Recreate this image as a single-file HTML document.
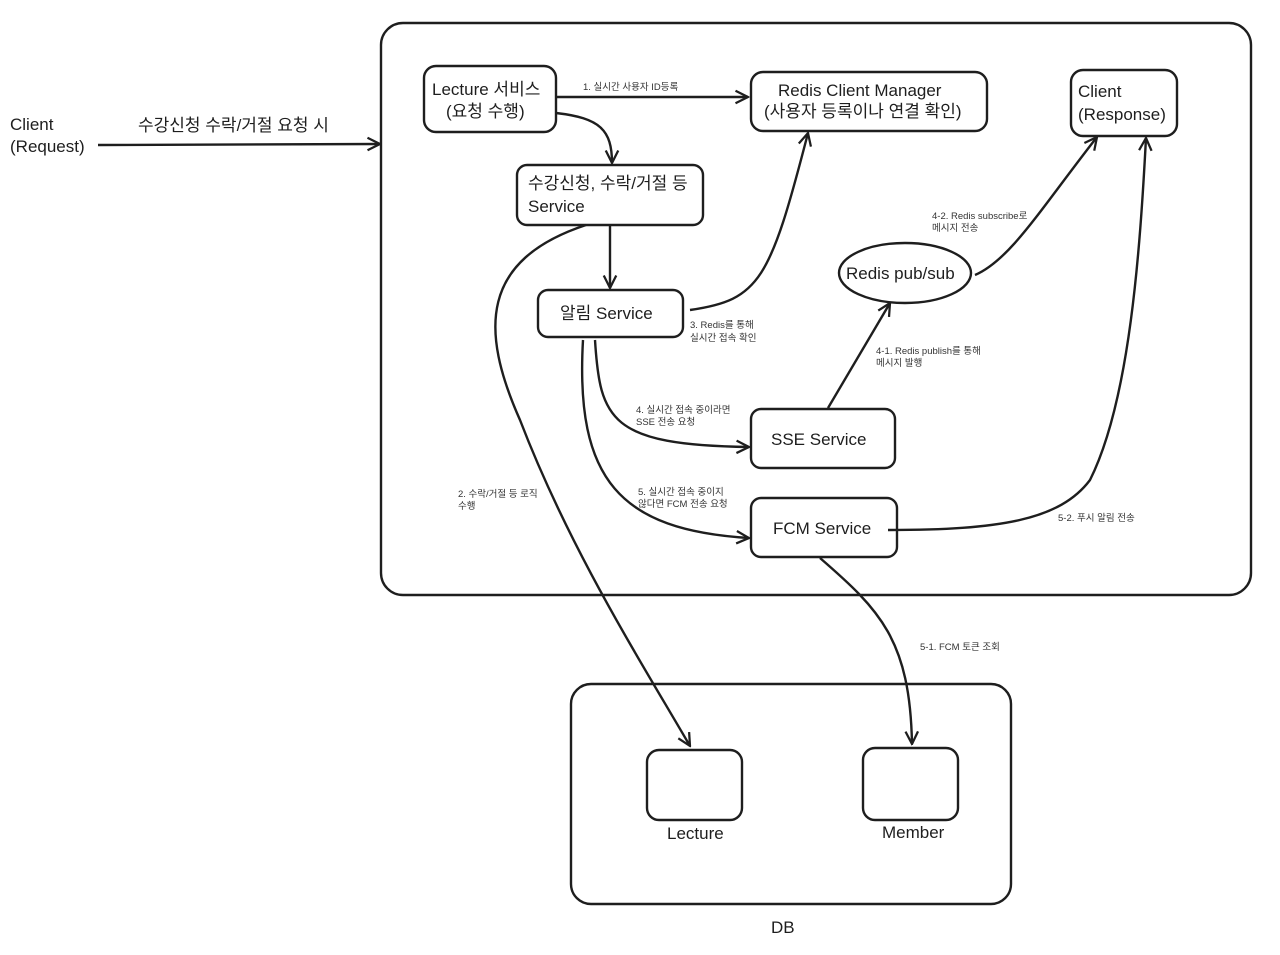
<!DOCTYPE html>
<html><head><meta charset="utf-8"><style>
html,body{margin:0;padding:0;background:#fff;}
svg{display:block;}
text{font-family:"Liberation Sans","Noto Sans CJK KR",sans-serif;fill:#1e1e1e;}
.b{font-size:17px;}
.s{font-size:9.5px;fill:#333;}
</style></head><body>
<svg width="1280" height="955" viewBox="0 0 1280 955" xmlns="http://www.w3.org/2000/svg">
<defs><marker id="a" viewBox="0 0 12 12" refX="11" refY="6" markerWidth="15" markerHeight="15" orient="auto" markerUnits="userSpaceOnUse"><path d="M1,1 L11,6 L1,11" fill="none" stroke="#1e1e1e" stroke-width="1.8"/></marker></defs>
<g fill="none" stroke="#1e1e1e" stroke-width="2.4">
<rect x="381" y="23" width="870" height="572" rx="22"/>
<rect x="571" y="684" width="440" height="220" rx="20"/>
<rect x="424" y="66" width="132" height="66" rx="12"/>
<rect x="751" y="72" width="236" height="59" rx="12"/>
<rect x="1071" y="70" width="106" height="66" rx="12"/>
<rect x="517" y="165" width="186" height="60" rx="10"/>
<rect x="538" y="290" width="145" height="47" rx="10"/>
<rect x="751" y="409" width="144" height="59" rx="10"/>
<rect x="751" y="498" width="146" height="59" rx="10"/>
<rect x="647" y="750" width="95" height="70" rx="12"/>
<rect x="863" y="748" width="95" height="72" rx="12"/>
<ellipse cx="905" cy="273" rx="66" ry="30"/>
<path d="M98,145 L380,144" marker-end="url(#a)"/>
<path d="M556,97 L748,97" marker-end="url(#a)"/>
<path d="M556,113 C600,118 612,130 612,163" marker-end="url(#a)"/>
<path d="M610,226 L610,288" marker-end="url(#a)"/>
<path d="M690,310 C760,300 770,280 808,133" marker-end="url(#a)"/>
<path d="M586,225 C480,260 480,330 520,420 C570,550 640,660 690,746" marker-end="url(#a)"/>
<path d="M595,340 C600,420 610,445 749,447" marker-end="url(#a)"/>
<path d="M583,340 C575,480 620,530 749,538" marker-end="url(#a)"/>
<path d="M828,408 L890,303" marker-end="url(#a)"/>
<path d="M975,275 C1010,260 1040,210 1097,137" marker-end="url(#a)"/>
<path d="M888,530 C1000,530 1060,520 1090,480 C1130,400 1140,250 1146,138" marker-end="url(#a)"/>
<path d="M820,558 C880,610 910,640 912,744" marker-end="url(#a)"/>
</g>
<text class="b" x="10" y="130">Client</text>
<text class="b" x="10" y="152">(Request)</text>
<text class="b" x="138" y="131">수강신청 수락/거절 요청 시</text>
<text class="b" x="432" y="95">Lecture 서비스</text>
<text class="b" x="446" y="117">(요청 수행)</text>
<text class="b" x="778" y="96">Redis Client Manager</text>
<text class="b" x="764" y="117">(사용자 등록이나 연결 확인)</text>
<text class="b" x="1078" y="97">Client</text>
<text class="b" x="1078" y="120">(Response)</text>
<text class="b" x="528" y="189">수강신청, 수락/거절 등</text>
<text class="b" x="528" y="212">Service</text>
<text class="b" x="560" y="319">알림 Service</text>
<text class="b" x="846" y="279">Redis pub/sub</text>
<text class="b" x="771" y="445">SSE Service</text>
<text class="b" x="773" y="534">FCM Service</text>
<text class="b" x="667" y="839">Lecture</text>
<text class="b" x="882" y="838">Member</text>
<text class="b" x="771" y="933">DB</text>
<text class="s" x="583" y="90">1. 실시간 사용자 ID등록</text>
<text class="s" x="932" y="219">4-2. Redis subscribe로</text>
<text class="s" x="932" y="231">메시지 전송</text>
<text class="s" x="690" y="328">3. Redis를 통해</text>
<text class="s" x="690" y="341">실시간 접속 확인</text>
<text class="s" x="876" y="354">4-1. Redis publish를 통해</text>
<text class="s" x="876" y="366">메시지 발행</text>
<text class="s" x="636" y="413">4. 실시간 접속 중이라면</text>
<text class="s" x="636" y="425">SSE 전송 요청</text>
<text class="s" x="458" y="497">2. 수락/거절 등 로직</text>
<text class="s" x="458" y="509">수행</text>
<text class="s" x="638" y="495">5. 실시간 접속 중이지</text>
<text class="s" x="638" y="507">않다면 FCM 전송 요청</text>
<text class="s" x="1058" y="521">5-2. 푸시 알림 전송</text>
<text class="s" x="920" y="650">5-1. FCM 토큰 조회</text>
</svg>
</body></html>
